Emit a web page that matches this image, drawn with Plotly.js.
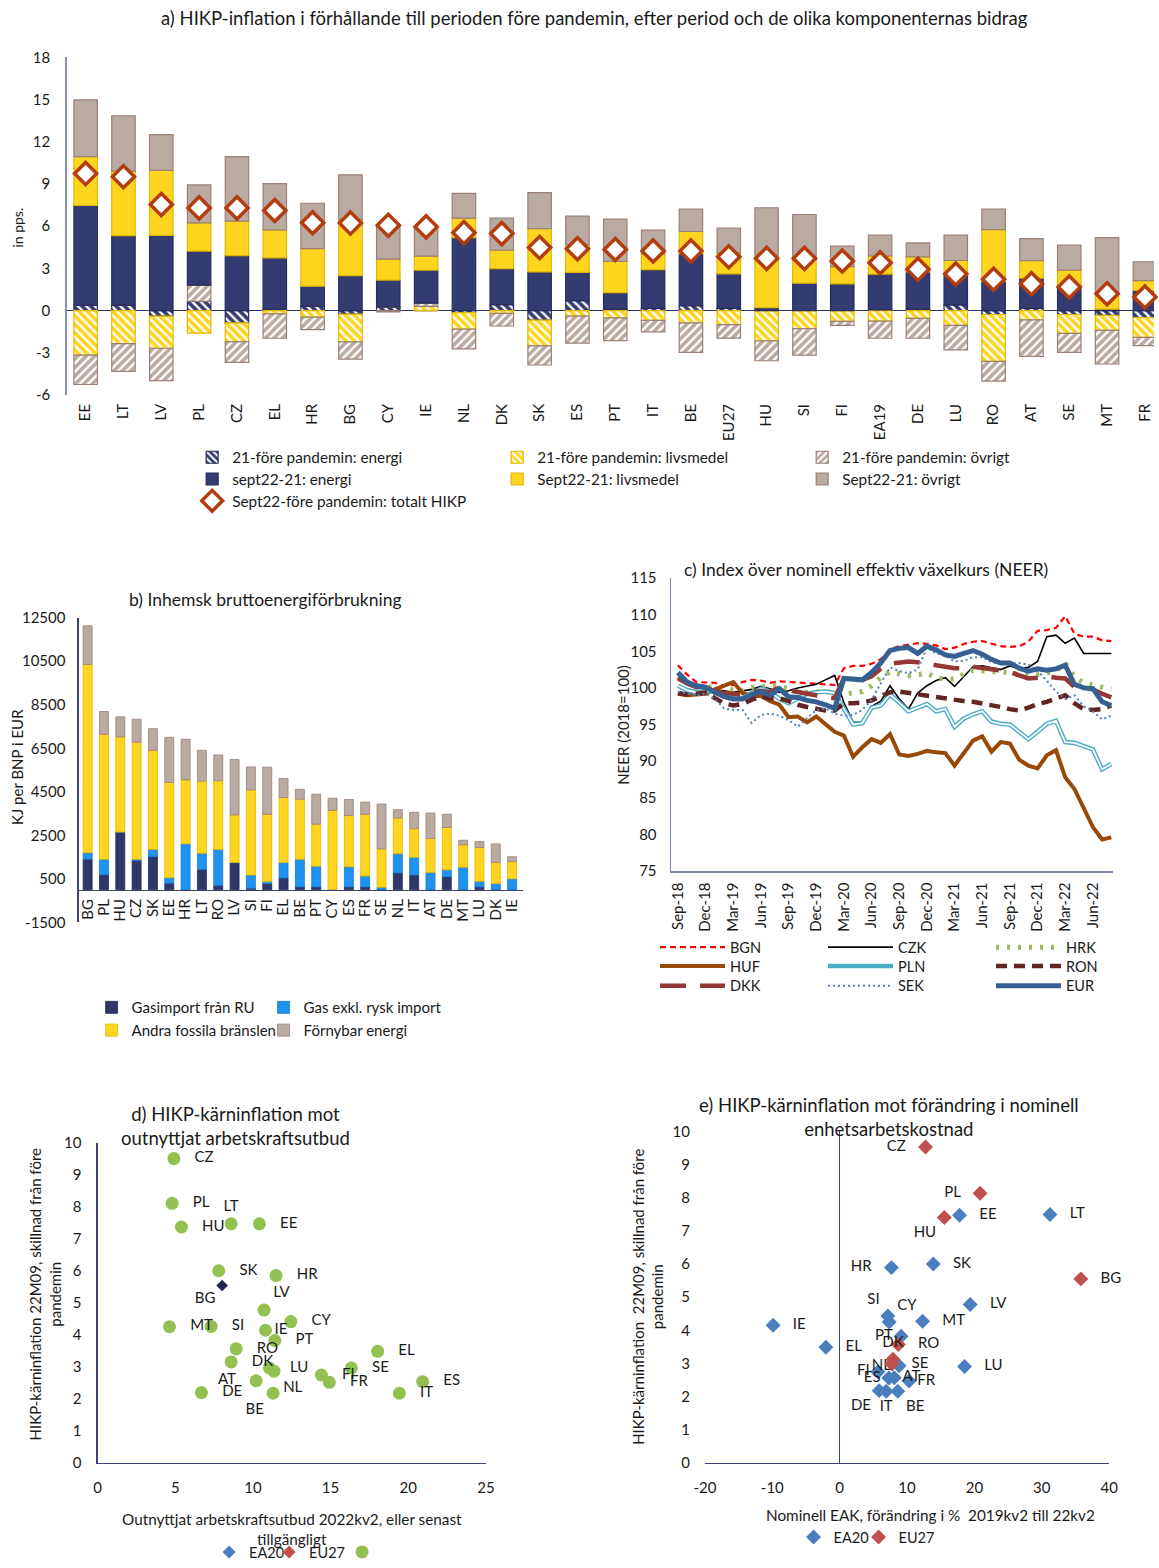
<!DOCTYPE html>
<html><head><meta charset="utf-8">
<script src="https://cdn.plot.ly/plotly-3.0.1.min.js"></script>
<style>html,body{margin:0;padding:0;background:#fff}#chart{width:1159px;height:1568px}</style>
</head><body><div id="chart"></div>
<script>
const W = 1159, H = 1568;
const px = x => x / W, py = y => 1 - y / H;
const FONT = 'Lato, "Liberation Sans", sans-serif';
const TXT = '#1a1a1a';

// ---------- Panel a: HICP contributions ----------
const aCountries = ['EE','LT','LV','PL','CZ','EL','HR','BG','CY','IE','NL','DK','SK','ES','PT','IT','BE','EU27','HU','SI','FI','EA19','DE','LU','RO','AT','SE','MT','FR'];
const aEnergy21 = [0.38,0.38,-0.40,0.66,-0.87,0.10,0.30,-0.26,0.25,0.00,-0.15,0.42,-0.68,0.70,0.10,0.15,0.35,0.15,0.00,0.00,0.00,0.05,0.10,0.40,-0.28,0.15,-0.28,-0.35,-0.50];
const aFood21   = [-3.17,-2.35,-2.28,-1.60,-1.34,-0.23,-0.47,-1.97,0.00,0.30,-1.17,-0.20,-1.83,-0.40,-0.52,-0.70,-0.87,-1.00,-2.16,-1.29,-0.77,-0.75,-0.56,-1.06,-3.33,-0.66,-1.34,-1.06,-1.41];
const aOther21  = [-2.09,-1.97,-2.30,1.15,-1.48,-1.74,-0.89,-1.22,-0.10,0.23,-1.41,-0.90,-1.36,-1.92,-1.62,-0.82,-2.11,-0.96,-1.41,-1.88,-0.28,-1.22,-1.41,-1.74,-1.41,-2.60,-1.36,-2.39,-0.59];
const aEnergy22 = [7.09,4.95,5.35,2.42,3.90,3.64,1.43,2.49,1.92,2.35,5.19,2.56,2.75,2.02,1.17,2.75,3.70,2.46,0.20,1.95,1.90,2.54,2.65,2.10,2.07,2.16,1.71,0.10,1.43];
const aFood22   = [3.47,4.58,4.62,2.00,2.46,2.00,2.68,3.97,1.48,0.99,1.38,1.31,3.08,1.97,2.23,1.13,1.57,1.48,3.75,1.64,1.22,1.29,1.06,1.06,3.69,1.24,1.17,1.10,0.70];
const aOther22  = [4.04,3.94,2.54,2.70,4.58,3.29,3.22,3.19,2.28,2.07,1.76,2.28,2.56,2.02,3.00,1.69,1.60,1.78,3.36,3.24,1.46,1.48,1.00,1.80,1.46,1.57,1.78,3.99,1.34];
const aTotal    = [9.74,9.51,7.54,7.30,7.30,7.11,6.24,6.22,6.06,5.95,5.54,5.47,4.48,4.39,4.34,4.23,4.23,3.82,3.71,3.71,3.52,3.40,2.93,2.60,2.23,1.90,1.67,1.20,0.96];
const aTickVals = [-6,-3,0,3,6,9,12,15,18];
const aTickText = ['-6','-3','0','3','6','9','12','15','18'];

// ---------- Panel b: gross inland energy consumption ----------
const bCountries = ['BG','PL','HU','CZ','SK','EE','HR','LT','RO','LV','SI','FI','EL','BE','PT','CY','ES','FR','SE','NL','IT','AT','DE','MT','LU','DK','IE'];
const bGasRU    = [1400,692,2654,1340,1521,298,0,933,193,1250,71,283,540,131,131,0,131,131,0,767,676,0,601,0,131,0,0];
const bGasOther = [300,708,0,60,332,257,2110,742,1660,0,605,91,710,1269,953,0,923,500,118,891,815,797,317,1039,259,283,510];
const bFossil   = [8654,5744,4369,5381,4551,4380,2945,3320,3157,2190,3912,3096,2990,2764,1932,3651,2356,2839,1767,1646,1314,1555,1948,1027,1555,967,785];
const bRenew    = [1768,1047,921,1057,997,2069,1858,1409,1183,2541,1057,2160,876,453,1375,559,739,558,2054,378,756,1179,604,211,272,860,226];
const bTickVals = [-1500,500,2500,4500,6500,8500,10500,12500];
const bTickText = ['-1500','500','2500','4500','6500','8500','10500','12500'];

// ---------- Panel c: NEER ----------
const cMonths = ['Sep-18','Oct-18','Nov-18','Dec-18','Jan-19','Feb-19','Mar-19','Apr-19','May-19','Jun-19','Jul-19','Aug-19',
  'Sep-19','Oct-19','Nov-19','Dec-19','Jan-20','Feb-20','Mar-20','Apr-20','May-20','Jun-20','Jul-20','Aug-20',
  'Sep-20','Oct-20','Nov-20','Dec-20','Jan-21','Feb-21','Mar-21','Apr-21','May-21','Jun-21','Jul-21','Aug-21',
  'Sep-21','Oct-21','Nov-21','Dec-21','Jan-22','Feb-22','Mar-22','Apr-22','May-22','Jun-22','Jul-22','Aug-22'];
const cTicks = ['Sep-18','Dec-18','Mar-19','Jun-19','Sep-19','Dec-19','Mar-20','Jun-20','Sep-20','Dec-20','Mar-21','Jun-21','Sep-21','Dec-21','Mar-22','Jun-22'];
const cBGN = [103.1,101.8,100.8,100.8,100.7,100.3,100.4,100.8,101.1,101.0,100.7,100.9,100.8,100.7,100.6,100.5,100.5,100.4,102.7,103.0,103.0,103.3,103.9,105.3,105.7,105.9,106.1,106.0,105.8,105.3,105.5,106.0,106.3,106.4,106.0,105.7,105.6,105.7,106.3,107.8,107.9,108.2,109.8,107.4,107.0,107.0,106.5,106.4];
const cCZK = [101.5,100.6,100.2,100.1,99.8,99.6,99.4,99.6,99.8,100.2,99.9,99.4,99.6,100.0,100.3,100.5,101.1,101.7,98.0,95.3,95.3,97.5,98.2,100.3,98.5,97.1,99.3,100.3,101.0,101.4,100.2,101.5,102.9,103.0,102.7,102.5,103.0,102.6,102.8,103.6,107.0,107.2,106.1,106.8,104.7,104.7,104.8,104.7];
const cHRK = [101.5,100.7,100.2,100.1,100.2,99.9,99.7,99.6,100.1,100.1,100.4,100.3,99.8,99.4,99.4,99.5,99.5,99.4,99.2,99.3,99.5,100.3,101.4,102.2,101.9,101.7,101.8,102.0,101.4,101.2,101.2,101.9,102.4,102.3,102.2,102.2,102.1,101.8,101.7,101.8,102.0,102.3,103.4,101.5,100.7,100.4,100.0,99.8];
const cHUF = [99.2,99.0,99.1,99.2,99.8,100.3,100.8,99.3,98.9,98.9,98.2,97.7,96.0,96.1,95.3,96.1,95.0,94.0,93.5,90.6,91.9,93.0,92.5,93.7,90.9,90.7,91.0,91.4,91.2,91.1,89.4,91.0,92.8,93.4,91.3,92.6,92.4,90.2,89.4,89.0,90.8,91.5,87.8,86.2,83.7,81.0,79.3,79.6];
const cPLN = [100.3,99.7,99.4,99.6,99.5,99.0,98.7,98.6,99.3,99.9,99.5,98.5,97.9,98.6,99.2,99.4,99.5,99.3,97.2,95.0,95.2,97.3,97.6,99.1,98.0,96.8,97.3,97.8,96.8,97.1,94.7,95.8,96.4,96.8,95.4,95.1,95.0,94.0,93.0,94.0,95.1,95.5,92.6,92.5,92.0,91.6,88.9,89.6];
const cRON = [99.3,99.1,99.2,99.4,98.6,97.9,97.6,97.8,98.4,98.8,98.6,98.6,98.2,97.7,97.4,97.1,96.9,96.9,97.9,97.9,98.0,98.3,98.8,99.4,99.5,99.3,99.1,98.9,98.7,98.5,98.3,98.2,98.1,97.9,97.7,97.4,97.1,96.9,97.3,97.8,98.1,98.6,99.0,97.9,97.1,97.0,97.1,97.6];
const cDKK = [101.3,100.6,100.1,100.3,99.6,99.3,99.2,99.1,99.4,99.6,99.4,100.1,99.7,99.4,99.2,99.0,98.8,98.6,101.3,101.2,101.1,101.6,102.6,103.3,103.5,103.6,103.5,103.4,103.1,102.9,102.7,102.7,102.9,102.7,102.5,102.3,102.2,101.7,101.3,101.4,101.6,101.4,101.3,100.1,100.0,99.8,99.2,98.7];
const cSEK = [99.5,99.2,99.0,99.2,98.5,97.2,97.0,97.0,95.2,96.3,96.5,96.2,95.6,94.7,95.8,97.0,97.2,96.5,96.2,96.3,97.0,98.4,100.6,102.8,102.3,102.0,102.5,105.5,104.7,104.4,103.6,103.7,104.2,104.2,103.5,103.3,103.3,103.4,103.2,102.3,101.0,99.5,98.5,99.0,97.5,96.8,95.7,96.2];
const cEUR = [102.1,100.8,100.3,100.1,99.4,98.8,98.5,98.5,99.1,99.5,99.0,99.9,98.8,98.7,98.3,98.1,97.7,97.2,101.3,101.2,101.1,102.1,103.4,105.1,105.4,105.5,104.7,105.7,105.2,104.5,104.3,104.7,105.1,104.6,103.9,103.4,103.4,102.7,102.3,102.6,102.4,102.6,103.1,100.5,100.0,99.9,98.1,97.6];

// ---------- Panel d: core inflation vs labour slack ----------
const dNames = ['CZ','PL','HU','LT','EE','SK','HR','LV','MT','SI','CY','IE','PT','RO','DK','LU','NL','AT','DE','BE','FI','FR','SE','EL','ES','IT'];
const dSlack = [4.91,4.80,5.40,8.60,10.42,7.80,11.49,10.72,4.63,7.31,12.44,10.81,11.41,8.92,8.60,11.06,11.36,10.21,6.69,11.30,14.41,14.92,16.34,18.03,20.93,19.43];
const dCore  = [9.52,8.12,7.38,7.48,7.48,6.01,5.86,4.78,4.26,4.27,4.42,4.15,3.83,3.57,3.16,2.97,2.87,2.57,2.20,2.18,2.75,2.52,2.97,3.49,2.54,2.18];
const dPos   = ['R','R','R','top center','R','R','R','top right','R','R','R','r','R','R','R','R','bottom right','L','R','bottom left','R','R','R','R','R','R'];
const dBgName = ['BG'], dBgSlack = [8.02], dBgCore = [5.55];

// ---------- Panel e: core inflation vs nominal ULC ----------
const eaNames = ['EE','LT','HR','SK','LV','SI','CY','MT','IE','EL','PT','NL','FI','ES','AT','FR','DE','IT','BE','LU'];
const eaULC   = [17.79,31.21,7.68,13.89,19.37,7.15,7.34,12.30,-9.89,-2.05,9.11,8.82,5.67,7.30,8.10,10.30,5.86,6.90,8.62,18.53];
const eaCore  = [7.47,7.49,5.89,6.00,4.78,4.43,4.25,4.27,4.15,3.49,3.82,2.93,2.75,2.56,2.57,2.47,2.18,2.16,2.16,2.91];
const eaPos   = ['R','R','L','R','R','top left','top right','R','R','R','l','l','l','l','r','r','bottom left','bottom center','bottom right','R'];
const euNames = ['CZ','PL','HU','BG','RO','DK','SE'];
const euULC   = [12.74,20.84,15.53,35.79,8.70,7.90,7.75];
const euCore  = [9.53,8.13,7.40,5.55,3.57,3.13,2.98];
const euPos   = ['L','L','bottom left','R','R','top center','R'];
const eTickVals = [-20,-10,0,10,20,30,40];
const eTickText = ['-20','-10','0','10','20','30','40'];

// ---------- helpers ----------
const SP = '\u00a0\u00a0\u00a0';
const padText = (names, pos) => names.map((n, i) => pos[i] === 'R' ? SP + n : pos[i] === 'L' ? n + SP : n);
const mapPos = pos => pos.map(p => ({R:'middle right', r:'middle right', L:'middle left', l:'middle left'}[p] || p));

const NAVY = '#343b70', NAVY_L = '#272d5e';
const YEL = '#ffd520', YEL_L = '#e3b600';
const TAU = '#b9aaa2', TAU_L = '#9a8076';

const traces = [];
function hatchBar(y, name, col, line, shape, legend) {
  return {type:'bar', x:aCountries, y:y, name:name, xaxis:'x', yaxis:'y', width:0.62, legend:legend,
    marker:{color:col, line:{color:line, width:1.2},
      pattern:{shape:shape, bgcolor:col, fgcolor:'#ffffff', size:6, solidity:0.4}}};
}
function solidBar(y, name, col, line, legend) {
  return {type:'bar', x:aCountries, y:y, name:name, xaxis:'x', yaxis:'y', width:0.62, legend:legend,
    marker:{color:col, line:{color:line, width:1.2}}};
}
traces.push(hatchBar(aEnergy21, '21-före pandemin: energi', NAVY, NAVY_L, '\\', 'legend'));
traces.push(hatchBar(aFood21, '21-före pandemin: livsmedel', YEL, YEL_L, '\\', 'legend'));
traces.push(hatchBar(aOther21, '21-före pandemin: övrigt', TAU, TAU_L, '/', 'legend'));
traces.push(solidBar(aEnergy22, 'sept22-21: energi', NAVY, NAVY_L, 'legend2'));
traces.push(solidBar(aFood22, 'Sept22-21: livsmedel', YEL, YEL_L, 'legend2'));
traces.push(solidBar(aOther22, 'Sept22-21: övrigt', TAU, TAU_L, 'legend2'));
traces.push({type:'scatter', mode:'markers', x:aCountries, y:aTotal, name:'Sept22-före pandemin: totalt HIKP',
  xaxis:'x', yaxis:'y', legend:'legend3', cliponaxis:false,
  marker:{symbol:'diamond', size:17, color:'#ffffff', line:{color:'#b43d10', width:3.5}}});

// panel b
function bBar(y, name, col, line, legend, lw) {
  const t = {type:'bar', x:bCountries, y:y, name:name, xaxis:'x2', yaxis:'y2', width:0.55, legend:legend,
    marker:{color:col, line:{color:line, width:0.8}}};
  if (lw) t.legendwidth = lw;
  return t;
}
traces.push(bBar(bGasRU, 'Gasimport från RU', '#2f3768', '#232a55', 'legend4'));
traces.push(bBar(bGasOther, 'Gas exkl. rysk import', '#1f93f0', '#1577c9', 'legend4', 170));
traces.push(bBar(bFossil, 'Andra fossila bränslen', YEL, YEL_L, 'legend5'));
traces.push(bBar(bRenew, 'Förnybar energi', TAU, TAU_L, 'legend5', 170));

// panel c
function cLine(y, name, color, width, dash, legend, extra) {
  return Object.assign({type:'scatter', mode:'lines', x:cMonths, y:y, name:name, xaxis:'x3', yaxis:'y3', legend:legend,
    line:{color:color, width:width, dash:dash}}, extra || {});
}
traces.push(cLine(cBGN, 'BGN', '#ff0000', 2.2, '6px,4px', 'legend6'));
traces.push(cLine(cCZK, 'CZK', '#000000', 1.6, 'solid', 'legend6'));
traces.push(cLine(cHRK, 'HRK', '#9bbb59', 5, '3px,8px', 'legend6'));
traces.push(cLine(cHUF, 'HUF', '#984807', 4, 'solid', 'legend7'));
traces.push(cLine(cPLN, 'PLN', '#4bacc6', 4.6, 'solid', 'legend7'));
traces.push(cLine(cPLN, 'PLN', '#ffffff', 1.8, 'solid', 'legend7', {showlegend:false}));
traces.push(cLine(cRON, 'RON', '#632523', 4.5, '11px,7px', 'legend7'));
traces.push(cLine(cDKK, 'DKK', '#953735', 4.5, '26px,14px', 'legend8'));
traces.push(cLine(cSEK, 'SEK', '#4f81bd', 2, '2px,3px', 'legend8'));
traces.push(cLine(cEUR, 'EUR', '#376092', 5, 'solid', 'legend8'));

// panel d
const LBL = {family:FONT, size:15, color:TXT};
traces.push({type:'scatter', mode:'markers', x:[null], y:[null], name:'EA20', xaxis:'x4', yaxis:'y4', legend:'legend9',
  marker:{symbol:'diamond', size:10, color:'#4a7ebf'}});
traces.push({type:'scatter', mode:'markers', x:[null], y:[null], name:'EU27', xaxis:'x4', yaxis:'y4', legend:'legend9',
  legendwidth:28, marker:{symbol:'diamond', size:10, color:'#c0504d'}});
traces.push({type:'scatter', mode:'markers+text', x:dSlack, y:dCore, name:' ', xaxis:'x4', yaxis:'y4', legend:'legend9',
  text:padText(dNames, dPos), textposition:mapPos(dPos), textfont:LBL, cliponaxis:false,
  marker:{symbol:'circle', size:13, color:'#92c051'}});
traces.push({type:'scatter', mode:'markers+text', x:dBgSlack, y:dBgCore, name:'BG', xaxis:'x4', yaxis:'y4', showlegend:false,
  text:dBgName, textposition:'bottom left', textfont:LBL, cliponaxis:false,
  marker:{symbol:'diamond', size:9, color:'#1f2750'}});

// panel e
traces.push({type:'scatter', mode:'markers+text', x:eaULC, y:eaCore, name:'EA20', xaxis:'x5', yaxis:'y5', legend:'legend10',
  text:padText(eaNames, eaPos), textposition:mapPos(eaPos), textfont:LBL, cliponaxis:false,
  marker:{symbol:'diamond', size:11.5, color:'#4a7ebf'}});
traces.push({type:'scatter', mode:'markers+text', x:euULC, y:euCore, name:'EU27', xaxis:'x5', yaxis:'y5', legend:'legend10',
  legendwidth:45, text:padText(euNames, euPos), textposition:mapPos(euPos), textfont:LBL, cliponaxis:false,
  marker:{symbol:'diamond', size:11.5, color:'#c0504d'}});

// ---------- layout ----------
const AXL = '#3b4272';
function leg(x, y, ew, extra) {
  return Object.assign({x:px(x), y:py(y), xanchor:'left', yanchor:'middle', orientation:'h', entrywidth:ew,
    entrywidthmode:'pixels', bgcolor:'rgba(0,0,0,0)', borderwidth:0, font:{family:FONT, size:15.3, color:TXT},
    traceorder:'normal', itemclick:false, itemdoubleclick:false}, extra || {});
}
const bDom = [py(932), py(624)];
const bZero = bDom[0] + (0 - (-1500)) / (12500 - (-1500)) * (bDom[1] - bDom[0]);

function ann(text, x, y, size, extra) {
  return Object.assign({text:text, x:px(x), y:py(y), xref:'paper', yref:'paper', showarrow:false,
    xanchor:'center', yanchor:'middle', font:{family:FONT, size:size, color:TXT}}, extra || {});
}
const TF = {size:15};

const layout = {
  width:W, height:H, margin:{l:0, r:0, t:0, b:0},
  paper_bgcolor:'#ffffff', plot_bgcolor:'rgba(0,0,0,0)',
  font:{family:FONT, size:14, color:TXT},
  barmode:'relative', showlegend:true, hovermode:false,
  // a
  xaxis:{domain:[px(67), 1], anchor:'y', type:'category', range:[-0.5, 28.24], tickangle:-90, showgrid:false,
    zeroline:false, showline:false, ticks:'', tickfont:TF, ticklabelstandoff:5},
  yaxis:{domain:[py(399), py(58)], anchor:'x', range:[-6, 18], tickvals:aTickVals, ticktext:aTickText, showgrid:false, showline:true,
    linecolor:'#8a90ad', linewidth:1.5, zeroline:true, zerolinecolor:'#2d346a', zerolinewidth:1,
    ticks:'', tickfont:TF, ticklabelstandoff:12},
  // b
  xaxis2:{domain:[px(79), px(525)], anchor:'free', position:bZero, type:'category', range:[-0.55, 26.65],
    tickvals:bCountries, tickangle:-90, showgrid:false, zeroline:false, showline:true, linecolor:AXL, linewidth:1.2, ticks:'',
    tickfont:TF, ticklabelstandoff:2},
  yaxis2:{domain:bDom, anchor:'x2', range:[-1500, 12500], tickvals:bTickVals, ticktext:bTickText,
    showgrid:false, zeroline:false, showline:true, linecolor:AXL, linewidth:1.2, ticks:'',
    tickfont:TF, ticklabelstandoff:9},
  // c
  xaxis3:{domain:[px(674), px(1118)], anchor:'y3', type:'category', range:[-0.74, 47.2], tickvals:cTicks,
    tickangle:-90, showgrid:false, zeroline:false, showline:true, linecolor:'#7e86ad', linewidth:1.5, ticks:'',
    tickfont:TF, ticklabelstandoff:4},
  yaxis3:{domain:[py(880), py(584)], anchor:'x3', range:[75, 115], dtick:5, showgrid:false, zeroline:false,
    showline:true, linecolor:'#7e86ad', linewidth:1.5, ticks:'', tickfont:TF, ticklabelstandoff:10},
  // d
  xaxis4:{domain:[px(98), px(488)], anchor:'y4', range:[0, 25], dtick:5, showgrid:false, zeroline:false,
    showline:true, linecolor:AXL, linewidth:1.2, ticks:'', tickfont:TF, ticklabelstandoff:11},
  yaxis4:{domain:[py(1478), py(1155)], anchor:'x4', range:[0, 10], dtick:1, showgrid:false, zeroline:false,
    showline:true, linecolor:AXL, linewidth:1.2, ticks:'', tickfont:TF, ticklabelstandoff:12},
  // e
  xaxis5:{domain:[px(708), px(1114)], anchor:'y5', range:[-20, 40], tickvals:eTickVals, ticktext:eTickText, showgrid:false, zeroline:true,
    zerolinecolor:AXL, zerolinewidth:1.2, showline:true, linecolor:AXL, linewidth:1.2, ticks:'',
    tickfont:TF, ticklabelstandoff:11},
  yaxis5:{domain:[py(1478), py(1143)], anchor:'x5', range:[0, 10], dtick:1, showgrid:false, zeroline:false,
    showline:false, ticks:'', tickfont:TF, ticklabelstandoff:14},
  legend:leg(193, 462, 260),
  legend2:leg(193, 484, 260),
  legend3:leg(193, 506, 260),
  legend4:leg(92, 1018, 127, {font:{family:FONT, size:15, color:TXT}}),
  legend5:leg(92, 1041, 127, {font:{family:FONT, size:15, color:TXT}}),
  legend6:leg(658, 957, 88, {itemwidth:65, font:{family:FONT, size:14.5, color:TXT}}),
  legend7:leg(658, 976, 88, {itemwidth:65, font:{family:FONT, size:14.5, color:TXT}}),
  legend8:leg(658, 996, 88, {itemwidth:65, font:{family:FONT, size:14.5, color:TXT}}),
  legend9:leg(210, 1552, 15, {yanchor:'top', font:{family:FONT, size:14.5, color:TXT}}),
  legend10:leg(797, 1553, 20, {font:{family:FONT, size:14.5, color:TXT}}),
  annotations:[
    ann('a) HIKP-inflation i förhållande till perioden före pandemin, efter period och de olika komponenternas bidrag', 597, 18, 18.5),
    ann('in pps.', 18, 230, 14, {textangle:-90}),
    ann('b) Inhemsk bruttoenergiförbrukning', 267, 606, 17.5),
    ann('KJ per BNP i EUR', 17, 775, 15, {textangle:-90}),
    ann('c) Index över nominell effektiv växelkurs (NEER)', 870, 575, 17.5),
    ann('NEER (2018=100)', 625, 732, 15, {textangle:-90}),
    ann('d) HIKP-kärninflation mot<br>outnyttjat arbetskraftsutbud', 237, 1138, 18.5),
    ann('HIKP-kärninflation 22M09, skillnad från före<br>pandemin', 45, 1308, 15, {textangle:-90}),
    ann('Outnyttjat arbetskraftsutbud 2022kv2, eller senast<br>tillgängligt', 293, 1545, 15.3),
    ann('e) HIKP-kärninflation mot förändring i nominell<br>enhetsarbetskostnad', 893, 1129, 18.5),
    ann('HIKP-kärninflation  22M09, skillnad från före<br>pandemin', 650, 1310, 15, {textangle:-90}),
    ann('Nominell EAK, förändring i %  2019kv2 till 22kv2', 935, 1531, 15.3)
  ]
};

Plotly.newPlot('chart', traces, layout, {displayModeBar:false, staticPlot:true});
</script>
</body></html>
